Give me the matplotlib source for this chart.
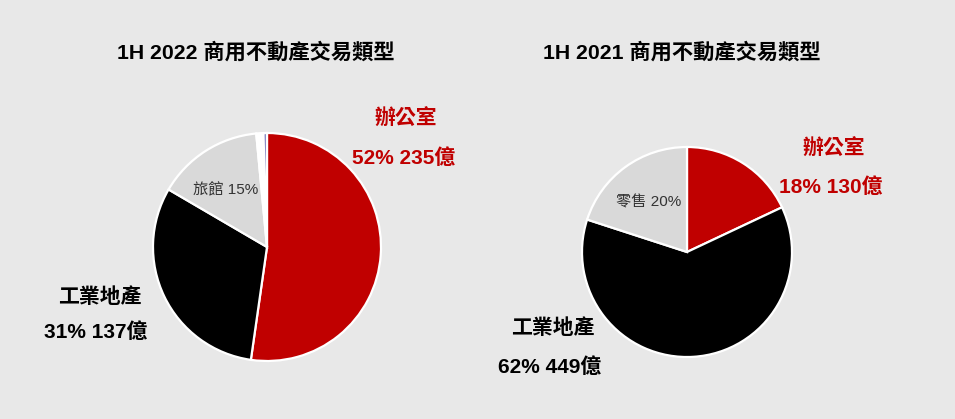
import matplotlib.pyplot as plt

plt.rcParams['font.family'] = ['Liberation Sans', 'Noto Sans CJK TC', 'DejaVu Sans']

# data
titles = ["1H 2022 商用不動產交易類型", "1H 2021 商用不動產交易類型"]
shares_2022 = [52, 31, 15, 1.0, 0.5]   # 辦公室, 工業地產, 旅館, other, other
shares_2021 = [18, 62, 20]             # 辦公室, 工業地產, 零售
colors_2022 = ["#c00000", "#000000", "#d9d9d9", "#ffffff", "#8080c0"]
colors_2021 = ["#c00000", "#000000", "#d9d9d9"]
office_labels = [("辦公室", "52% 235億"), ("辦公室", "18% 130億")]
industrial_labels = [("工業地產", "31% 137億"), ("工業地產", "62% 449億")]
inner_labels = ["旅館 15%", "零售 20%"]

W, H = 955, 419
fig = plt.figure(figsize=(W / 100, H / 100), dpi=100)
fig.patch.set_facecolor("#e8e8e8")
ax = fig.add_axes([0, 0, 1, 1])

def py(y):  # image y (from top) -> axes y
    return H - y

wedge_style = dict(edgecolor="white", linewidth=1.6)

ax.pie(shares_2022, colors=colors_2022, startangle=90, counterclock=False,
       center=(267, py(247)), radius=114, wedgeprops=wedge_style, frame=True)
ax.pie(shares_2021, colors=colors_2021, startangle=90, counterclock=False,
       center=(687, py(252)), radius=105, wedgeprops=wedge_style, frame=True)
ax.set_xlim(0, W)
ax.set_ylim(0, H)
ax.set_aspect("equal")
ax.axis("off")

title_x = [256, 682]
for x, t in zip(title_x, titles):
    ax.text(x, py(52), t, ha="center", va="center", fontsize=15.3,
            fontweight="bold", color="black")

# 辦公室 labels
office_pos = [(406, 119, 404, 158), (834, 149, 831, 187)]
for (x1, y1, x2, y2), (a, b) in zip(office_pos, office_labels):
    ax.text(x1, py(y1), a, ha="center", va="center", fontsize=15,
            fontweight="bold", color="#c00000")
    ax.text(x2, py(y2), b, ha="center", va="center", fontsize=15,
            fontweight="bold", color="#c00000")

# 工業地產 labels
ind_pos = [(100, 297, 96, 332), (553, 328, 550, 367)]
for (x1, y1, x2, y2), (a, b) in zip(ind_pos, industrial_labels):
    ax.text(x1, py(y1), a, ha="center", va="center", fontsize=15,
            fontweight="bold", color="black")
    ax.text(x2, py(y2), b, ha="center", va="center", fontsize=15,
            fontweight="bold", color="black")

# labels inside the grey slices
inner_pos = [(226, 190), (649, 202)]
for (x, y), t in zip(inner_pos, inner_labels):
    ax.text(x, py(y), t, ha="center", va="center", fontsize=11,
            color="#333333")

fig.savefig("out.png", dpi=100, facecolor=fig.get_facecolor())
